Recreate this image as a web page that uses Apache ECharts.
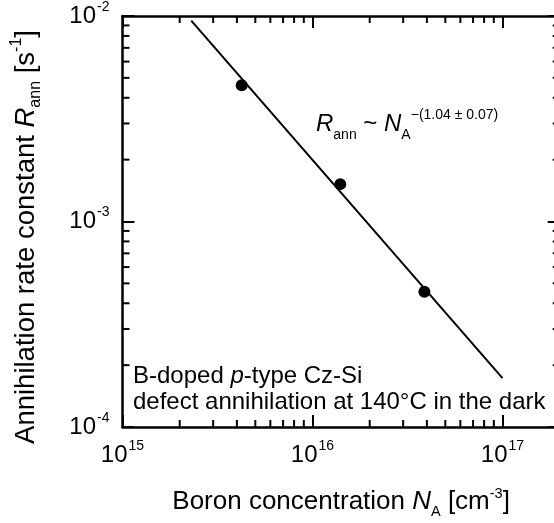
<!DOCTYPE html>
<html>
<head>
<meta charset="utf-8">
<script src="https://cdn.jsdelivr.net/npm/echarts@6/dist/echarts.min.js"></script>
<style>
  html, body { margin: 0; padding: 0; background: #fff; }
  #chart { width: 554px; height: 523px; }
</style>
</head>
<body>
<div id="chart"></div>
<script>
// Measured annihilation rate constants vs. boron concentration
const boronConc = [4.24e15, 1.40e16, 3.88e16];      // N_A [cm^-3]
const annRate   = [4.6e-3, 1.52e-3, 4.55e-4];       // R_ann [s^-1]

// Power-law fit drawn between its two end points
const fitConc = [2.3e15, 1.0e17];
const fitRate = [9.5e-3, 1.73e-4];

// Axis ranges
const xRange = [1e15, 2e17];
const yRange = [1e-4, 1e-2];

// Minor tick positions (2..9 within each decade)
function minorTicks(fromExp, toExp) {
  const out = [];
  for (let e = fromExp; e < toExp; e++) {
    for (let m = 2; m <= 9; m++) out.push(m * Math.pow(10, e));
  }
  return out;
}
const xMinor = minorTicks(15, 17);
const yMinor = minorTicks(-4, -2);

const FONT = '"Liberation Sans", Arial, sans-serif';
const INK = '#000';
const MINOR_LEN = 7;

function powLabel(v) {
  const e = Math.log10(v);
  const r = Math.round(e);
  if (Math.abs(e - r) > 1e-6) return '';
  return '{b|10}{s|' + (r < 0 ? '-' + (-r) : r) + '}';
}

const tickRich = {
  b: { fontSize: 24, fontFamily: FONT, color: INK, lineHeight: 26 },
  s: { fontSize: 14, fontFamily: FONT, color: INK, verticalAlign: 'top', lineHeight: 26, padding: [-3, 0, 0, 1] }
};

const chart = echarts.init(document.getElementById('chart'), null, { renderer: 'canvas' });

function majorAxis(extra) {
  return Object.assign({
    type: 'log',
    logBase: 10,
    splitLine: { show: false },
    axisLine: { show: true, lineStyle: { color: INK, width: 2.5 } },
    axisTick: { show: true, inside: true, length: 12, lineStyle: { color: INK, width: 2 } },
    minorTick: { show: false }
  }, extra);
}

// Geometric centre of each range, used as the "other" coordinate of a tick value
const xMid = Math.sqrt(xRange[0] * xRange[1]);
const yMid = Math.sqrt(yRange[0] * yRange[1]);

// Minor ticks along the bottom and top frame sides
function renderXMinor(params, api) {
  const cs = params.coordSys;
  const x = api.coord([api.value(0), yMid])[0];
  const yb = cs.y + cs.height, yt = cs.y;
  const style = { stroke: INK, lineWidth: 2 };
  return {
    type: 'group',
    children: [
      { type: 'line', shape: { x1: x, y1: yb, x2: x, y2: yb - MINOR_LEN }, style: style },
      { type: 'line', shape: { x1: x, y1: yt, x2: x, y2: yt + MINOR_LEN }, style: style }
    ]
  };
}

// Minor ticks along the left and right frame sides
function renderYMinor(params, api) {
  const cs = params.coordSys;
  const y = api.coord([xMid, api.value(1)])[1];
  const xl = cs.x, xr = cs.x + cs.width;
  const style = { stroke: INK, lineWidth: 2 };
  return {
    type: 'group',
    children: [
      { type: 'line', shape: { x1: xl, y1: y, x2: xl + MINOR_LEN, y2: y }, style: style },
      { type: 'line', shape: { x1: xr, y1: y, x2: xr - MINOR_LEN, y2: y }, style: style }
    ]
  };
}

chart.setOption({
  animation: false,
  backgroundColor: '#fff',
  grid: { left: 122.5, top: 16, width: 437.2, height: 411, outerBoundsMode: 'none', containLabel: false },
  xAxis: [
    majorAxis({
      min: xRange[0], max: xRange[1], position: 'bottom',
      name: '{t|Boron concentration }{i|N}{sub|A}{t| [cm}{sup|-3}{t|]}',
      nameLocation: 'middle', nameGap: 60,
      nameTextStyle: {
        rich: {
          t: { fontSize: 26, fontFamily: FONT, color: INK, lineHeight: 30 },
          i: { fontSize: 26, fontFamily: FONT, color: INK, fontStyle: 'italic', lineHeight: 30 },
          sub: { fontSize: 14.5, fontFamily: FONT, color: INK, verticalAlign: 'bottom', lineHeight: 30, padding: [0, 0, -2, 0] },
          sup: { fontSize: 14.5, fontFamily: FONT, color: INK, verticalAlign: 'top', lineHeight: 30, padding: [-1, 0, 0, 0] }
        }
      },
      axisLabel: { show: true, margin: 15, formatter: powLabel, rich: tickRich }
    }),
    majorAxis({
      min: xRange[0], max: xRange[1], position: 'top',
      axisLabel: { show: false }
    })
  ],
  yAxis: [
    majorAxis({
      min: yRange[0], max: yRange[1], position: 'left',
      axisLabel: { show: true, margin: 13, formatter: powLabel, rich: tickRich }
    }),
    majorAxis({
      min: yRange[0], max: yRange[1], position: 'right',
      axisLabel: { show: false }
    })
  ],
  graphic: [
    {
      // y-axis title, rotated
      type: 'text', x: 26, y: 237, rotation: Math.PI / 2, silent: true,
      style: {
        text: '{t|Annihilation rate constant }{i|R}{sub|ann}{t| [s}{sup|-1}{t|]}',
        align: 'center', verticalAlign: 'middle',
        rich: {
          t: { fontSize: 27.5, fontFamily: FONT, fill: INK, lineHeight: 32 },
          i: { fontSize: 27.5, fontFamily: FONT, fill: INK, fontStyle: 'italic', lineHeight: 32 },
          sub: { fontSize: 16, fontFamily: FONT, fill: INK, verticalAlign: 'bottom', lineHeight: 32, padding: [0, 0, -2, 0] },
          sup: { fontSize: 16, fontFamily: FONT, fill: INK, verticalAlign: 'top', lineHeight: 32, padding: [-1, 0, 0, 0] }
        }
      }
    },
    {
      type: 'text', left: 316, top: 108, silent: true,
      style: {
        text: '{i|R}{sub|ann}{t| ~ }{i|N}{sub|A}{sup|\u2212(1.04 \u00b1 0.07)}',
        rich: {
          t: { fontSize: 24, fontFamily: FONT, fill: INK, lineHeight: 30 },
          i: { fontSize: 24, fontFamily: FONT, fill: INK, fontStyle: 'italic', lineHeight: 30 },
          sub: { fontSize: 14, fontFamily: FONT, fill: INK, verticalAlign: 'bottom', lineHeight: 30, padding: [0, 0, -3, 0] },
          sup: { fontSize: 14, fontFamily: FONT, fill: INK, verticalAlign: 'top', lineHeight: 30, padding: [-1, 0, 0, 0] }
        }
      }
    },
    {
      type: 'text', left: 133, top: 364, silent: true,
      style: {
        text: '{t|B-doped }{i|p}{t|-type Cz-Si}\n{t|defect annihilation at 140\u00b0C in the dark}',
        rich: {
          t: { fontSize: 24, fontFamily: FONT, fill: INK, lineHeight: 26 },
          i: { fontSize: 24, fontFamily: FONT, fill: INK, fontStyle: 'italic', lineHeight: 26 }
        }
      }
    }
  ],
  series: [
    {
      type: 'line',
      xAxisIndex: 0, yAxisIndex: 0,
      data: fitConc.map((x, i) => [x, fitRate[i]]),
      showSymbol: false,
      lineStyle: { color: INK, width: 2 },
      z: 2
    },
    {
      type: 'scatter',
      xAxisIndex: 0, yAxisIndex: 0,
      data: boronConc.map((x, i) => [x, annRate[i]]),
      symbol: 'circle',
      symbolSize: 12,
      itemStyle: { color: INK, opacity: 1 },
      z: 3
    },
    {
      type: 'custom',
      xAxisIndex: 0, yAxisIndex: 0,
      data: xMinor.map(v => [v, yMid]),
      renderItem: renderXMinor,
      clip: false,
      silent: true,
      z: 4
    },
    {
      type: 'custom',
      xAxisIndex: 0, yAxisIndex: 0,
      data: yMinor.map(v => [xMid, v]),
      renderItem: renderYMinor,
      clip: false,
      silent: true,
      z: 4
    }
  ]
});
</script>
</body>
</html>
